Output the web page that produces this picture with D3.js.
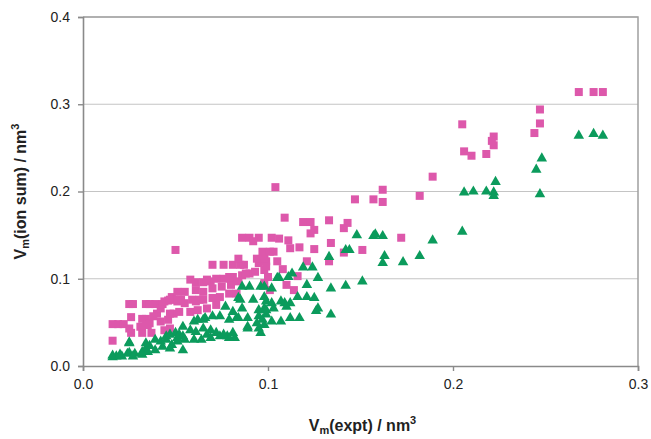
<!DOCTYPE html>
<html>
<head>
<meta charset="utf-8">
<script src="https://cdn.jsdelivr.net/npm/d3@7"></script>
<style>
  body { margin: 0; background: #fff; }
  svg { display: block; font-family: "Liberation Sans", Arial, sans-serif; }
</style>
</head>
<body>
<div id="chart"></div>
<script>
// Chart size
const width = 651;
const height = 439;
const margin = { top: 17, right: 13, bottom: 73, left: 83 };

// Tick values
const xTicks = [0.0, 0.1, 0.2, 0.3];
const yTicks = [0.0, 0.1, 0.2, 0.3, 0.4];

// Pink squares: [expt, ion sum]
const pinkPoints = [
    [0.016,0.029],[0.016,0.048],[0.019,0.048],[0.022,0.048],[0.025,0.071],[0.027,0.071],[0.026,0.056],[0.026,0.038],
    [0.032,0.038],[0.032,0.054],[0.034,0.054],[0.034,0.071],[0.036,0.071],[0.039,0.071],[0.036,0.049],[0.037,0.038],
    [0.040,0.060],[0.042,0.066],[0.043,0.071],[0.046,0.075],[0.048,0.079],[0.042,0.051],[0.044,0.041],[0.046,0.053],
    [0.049,0.060],[0.025,0.043],[0.031,0.045],[0.035,0.047],[0.038,0.057],[0.044,0.074],[0.049,0.076],[0.053,0.076],
    [0.059,0.076],[0.063,0.076],[0.047,0.043],[0.047,0.060],[0.052,0.062],[0.058,0.062],[0.062,0.064],[0.067,0.066],
    [0.072,0.070],[0.047,0.076],[0.051,0.074],[0.055,0.072],[0.061,0.074],[0.065,0.076],[0.070,0.078],[0.074,0.079],
    [0.079,0.083],[0.083,0.083],[0.051,0.085],[0.055,0.085],[0.061,0.087],[0.065,0.085],[0.070,0.089],[0.075,0.091],
    [0.080,0.093],[0.084,0.097],[0.058,0.099],[0.061,0.096],[0.065,0.096],[0.069,0.097],[0.076,0.100],[0.081,0.102],
    [0.086,0.104],[0.090,0.106],[0.067,0.099],[0.072,0.100],[0.079,0.102],[0.088,0.106],[0.093,0.108],[0.098,0.110],
    [0.070,0.116],[0.076,0.116],[0.081,0.116],[0.085,0.116],[0.095,0.118],[0.098,0.122],[0.087,0.116],[0.099,0.120],
    [0.105,0.120],[0.084,0.123],[0.094,0.123],[0.098,0.123],[0.050,0.133],[0.086,0.147],[0.090,0.147],[0.095,0.147],
    [0.102,0.147],[0.092,0.143],[0.106,0.146],[0.111,0.144],[0.097,0.131],[0.101,0.131],[0.103,0.131],[0.104,0.205],
    [0.109,0.170],[0.119,0.165],[0.123,0.165],[0.133,0.167],[0.143,0.164],[0.141,0.158],[0.125,0.156],[0.123,0.152],
    [0.112,0.135],[0.117,0.136],[0.125,0.134],[0.134,0.141],[0.151,0.133],[0.141,0.130],[0.133,0.120],[0.121,0.120],
    [0.108,0.111],[0.116,0.103],[0.110,0.093],[0.100,0.102],[0.099,0.114],[0.098,0.095],[0.101,0.087],[0.114,0.087],
    [0.147,0.191],[0.157,0.191],[0.162,0.202],[0.162,0.188],[0.182,0.195],[0.189,0.217],[0.172,0.147],
    [0.205,0.277],[0.206,0.246],[0.210,0.241],[0.218,0.243],[0.222,0.253],[0.222,0.263],[0.221,0.258],
    [0.247,0.294],[0.247,0.278],[0.244,0.267],[0.268,0.314],[0.276,0.314],[0.281,0.314]
];

// Green triangles: [expt, ion sum]
const greenPoints = [
    [0.016,0.010],[0.018,0.011],[0.021,0.011],[0.024,0.014],[0.025,0.015],[0.028,0.014],[0.025,0.027],[0.032,0.016],
    [0.034,0.020],[0.036,0.023],[0.039,0.018],[0.042,0.028],[0.043,0.022],[0.045,0.030],[0.048,0.024],[0.051,0.028],
    [0.050,0.038],[0.052,0.036],[0.016,0.012],[0.020,0.013],[0.027,0.011],[0.032,0.013],[0.035,0.016],[0.025,0.026],
    [0.034,0.026],[0.039,0.030],[0.045,0.034],[0.054,0.034],[0.060,0.030],[0.067,0.036],[0.072,0.038],[0.078,0.034],
    [0.082,0.032],[0.047,0.020],[0.054,0.018],[0.051,0.032],[0.055,0.030],[0.064,0.030],[0.069,0.032],[0.074,0.034],
    [0.079,0.032],[0.047,0.036],[0.054,0.045],[0.058,0.041],[0.061,0.039],[0.065,0.043],[0.069,0.041],[0.076,0.036],
    [0.081,0.038],[0.089,0.043],[0.095,0.043],[0.089,0.045],[0.094,0.049],[0.098,0.047],[0.062,0.053],[0.066,0.055],
    [0.070,0.057],[0.074,0.057],[0.079,0.053],[0.083,0.055],[0.060,0.051],[0.065,0.053],[0.084,0.055],[0.089,0.055],
    [0.095,0.057],[0.099,0.059],[0.077,0.068],[0.081,0.062],[0.086,0.066],[0.095,0.064],[0.098,0.066],[0.103,0.066],
    [0.084,0.078],[0.092,0.076],[0.098,0.079],[0.085,0.076],[0.099,0.074],[0.086,0.091],[0.090,0.091],[0.096,0.091],
    [0.102,0.089],[0.105,0.101],[0.111,0.102],[0.102,0.072],[0.109,0.072],[0.112,0.072],[0.116,0.079],[0.121,0.079],
    [0.125,0.078],[0.107,0.074],[0.110,0.068],[0.127,0.066],[0.134,0.059],[0.126,0.063],[0.097,0.053],[0.102,0.051],
    [0.107,0.051],[0.112,0.055],[0.117,0.055],[0.099,0.064],[0.096,0.038],[0.098,0.091],[0.113,0.106],[0.106,0.101],
    [0.119,0.113],[0.124,0.113],[0.127,0.101],[0.121,0.093],[0.134,0.089],[0.142,0.092],[0.151,0.097],[0.133,0.125],
    [0.142,0.133],[0.144,0.133],[0.148,0.150],[0.158,0.151],[0.157,0.149],[0.162,0.149],[0.163,0.126],[0.162,0.118],
    [0.173,0.119],[0.182,0.126],[0.189,0.144],[0.205,0.154],[0.206,0.199],[0.211,0.200],[0.218,0.200],[0.223,0.211],
    [0.222,0.199],[0.222,0.195],[0.248,0.238],[0.245,0.225],[0.247,0.197],[0.268,0.264],[0.276,0.266],[0.281,0.264]
];

const svg = d3.select('#chart')
    .append('svg')
    .attr('width', width)
    .attr('height', height);

// Scales
const x = d3.scaleLinear()
    .domain([0, 0.3])
    .range([margin.left, width - margin.right]);

const y = d3.scaleLinear()
    .domain([0, 0.4])
    .range([height - margin.bottom, margin.top]);

// Horizontal gridlines
svg.append('g')
    .selectAll('line')
    .data(yTicks.slice(1))
    .join('line')
      .attr('x1', x(0))
      .attr('x2', x(0.3))
      .attr('y1', d => y(d))
      .attr('y2', d => y(d))
      .attr('stroke', '#c4c4c4')
      .attr('stroke-width', 1.2);

// Plot border (right and top)
svg.append('path')
    .attr('d', `M${x(0)},${y(0.4)}H${x(0.3)}V${y(0)}`)
    .attr('fill', 'none')
    .attr('stroke', '#a0a0a0')
    .attr('stroke-width', 1.5);

// Axes
const xAxis = svg.append('g')
    .attr('transform', `translate(0,${y(0)})`)
    .call(d3.axisBottom(x).tickValues(xTicks).tickFormat(d3.format('.1f')).tickSizeOuter(0).tickSize(5).tickPadding(8));

const yAxis = svg.append('g')
    .attr('transform', `translate(${x(0)},0)`)
    .call(d3.axisLeft(y).tickValues(yTicks).tickFormat(d3.format('.1f')).tickSizeOuter(0).tickSize(5).tickPadding(8));

[xAxis, yAxis].forEach(a => {
    a.select('.domain').attr('stroke', '#8a8a8a').attr('stroke-width', 1.6);
    a.selectAll('.tick line').attr('stroke', '#8a8a8a').attr('stroke-width', 1.4);
    a.selectAll('.tick text')
        .attr('fill', '#222')
        .style('font-size', '14px')
        .style('font-family', '"Liberation Sans", Arial, sans-serif');
});

// Markers
const sq = 8;
svg.append('g')
    .selectAll('rect')
    .data(pinkPoints)
    .join('rect')
      .attr('x', d => x(d[0]) - sq / 2)
      .attr('y', d => y(d[1]) - sq / 2)
      .attr('width', sq)
      .attr('height', sq)
      .attr('fill', '#dd58ab');

const tri = d3.symbol().type(d3.symbolTriangle).size(48);
svg.append('g')
    .selectAll('path')
    .data(greenPoints)
    .join('path')
      .attr('d', tri)
      .attr('transform', d => `translate(${x(d[0])},${y(d[1])})`)
      .attr('fill', '#0b9b5c');

// Axis titles
const xTitle = svg.append('text')
    .attr('x', (x(0) + x(0.3)) / 2 + 2)
    .attr('y', 431)
    .attr('text-anchor', 'middle')
    .attr('font-weight', 'bold')
    .attr('font-size', 16)
    .attr('fill', '#222');
xTitle.append('tspan').text('V');
xTitle.append('tspan').attr('font-size', 11).attr('dy', 3).text('m');
xTitle.append('tspan').attr('dy', -3).text('(expt) / nm');
xTitle.append('tspan').attr('font-size', 11).attr('dy', -7).text('3');

const yTitle = svg.append('text')
    .attr('transform', `translate(26,${(y(0) + y(0.4)) / 2}) rotate(-90)`)
    .attr('text-anchor', 'middle')
    .attr('font-weight', 'bold')
    .attr('font-size', 16)
    .attr('fill', '#222');
yTitle.append('tspan').text('V');
yTitle.append('tspan').attr('font-size', 11).attr('dy', 3).text('m');
yTitle.append('tspan').attr('dy', -3).text('(ion sum) / nm');
yTitle.append('tspan').attr('font-size', 11).attr('dy', -7).text('3');
</script>
</body>
</html>
